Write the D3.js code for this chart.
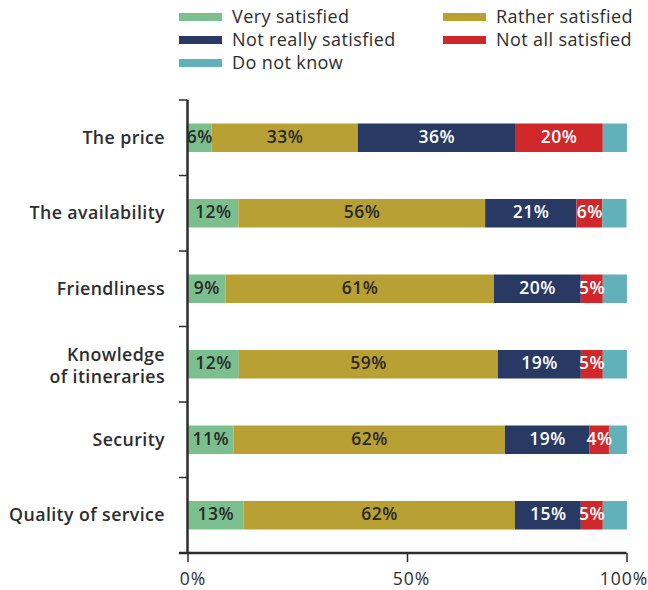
<!DOCTYPE html>
<html><head><meta charset="utf-8">
<script src="https://cdn.jsdelivr.net/npm/d3@7/dist/d3.min.js"></script>
<style>body{margin:0;background:#fff}svg{display:block}</style>
</head><body>
<svg id="chart" width="648" height="590"></svg>
<script>
const categories = ["The price", "The availability", "Friendliness", "Knowledge\nof itineraries", "Security", "Quality of service"];
const seriesNames = ["Very satisfied", "Rather satisfied", "Not really satisfied", "Not all satisfied", "Do not know"];
const verySatisfied   = [5.5, 11.6, 8.7, 11.7, 10.5, 12.8];
const ratherSatisfied = [33.3, 56.2, 61.1, 59.0, 61.8, 61.8];
const notReally       = [35.8, 20.8, 19.8, 18.9, 19.3, 15.0];
const notAll          = [20.0, 5.9, 5.0, 5.0, 4.4, 5.0];
const doNotKnow       = [5.5, 5.5, 5.5, 5.5, 4.1, 5.5];
const valueLabels = [
  ["6%", "33%", "36%", "20%", ""],
  ["12%", "56%", "21%", "6%", ""],
  ["9%", "61%", "20%", "5%", ""],
  ["12%", "59%", "19%", "5%", ""],
  ["11%", "62%", "19%", "4%", ""],
  ["13%", "62%", "15%", "5%", ""]
];
const xTicks = [0, 50, 100];
const xTickLabels = ["0%", "50%", "100%"];

const colors = ["#7bbf8e", "#b8a034", "#283a63", "#d0272b", "#62b1ba"];
const labelColors = ["#2a2a2a", "#2a2a2a", "#ffffff", "#ffffff", "#ffffff"];
const tickLabelShift = [5, 4, -3];
const FONT = "'Open Sans', sans-serif";
const ink = "#2d2d2d";

const series = [verySatisfied, ratherSatisfied, notReally, notAll, doNotKnow];
const table = categories.map((c, i) => {
  const o = {cat: c};
  seriesNames.forEach((s, j) => o[s] = series[j][i]);
  return o;
});
const stacked = d3.stack().keys(seriesNames)(table);

const svg = d3.select("#chart");
const x = d3.scaleLinear().domain([0, 100]).range([187.5, 626.5]);
const y = d3.scaleBand().domain(categories).range([100, 553]).padding(0);
const barH = 28.5;

// bars
const layers = svg.append("g").selectAll("g").data(stacked).join("g")
  .attr("fill", (d, i) => colors[i]);
layers.selectAll("rect").data(d => d).join("rect")
  .attr("x", d => x(d[0]))
  .attr("width", d => x(d[1]) - x(d[0]))
  .attr("y", d => y(d.data.cat) + y.bandwidth() / 2 - barH / 2)
  .attr("height", barH);

// value labels
stacked.forEach((layer, si) => {
  svg.append("g").selectAll("text").data(layer).join("text")
    .attr("x", d => (x(d[0]) + x(d[1])) / 2 + 0.3)
    .attr("y", d => y(d.data.cat) + y.bandwidth() / 2 - 1)
    .attr("dy", "0.35em")
    .attr("text-anchor", "middle")
    .attr("font-family", FONT)
    .attr("font-size", 17.5)
    .attr("font-weight", 600)
    .attr("letter-spacing", "0.5px")
    .attr("fill", labelColors[si])
    .text((d, i) => valueLabels[i][si]);
});

// y axis
const yAxisG = svg.append("g");
yAxisG.append("line").attr("x1", 187.5).attr("x2", 187.5)
  .attr("y1", y.range()[0]).attr("y2", y.range()[1])
  .attr("stroke", ink).attr("stroke-width", 2.5);
const boundaries = categories.map(c => y(c));
yAxisG.selectAll("line.tk").data(boundaries).join("line").attr("class", "tk")
  .attr("x1", 179).attr("x2", 187.5).attr("y1", d => d).attr("y2", d => d)
  .attr("stroke", ink).attr("stroke-width", 1.5);

// category labels
svg.append("g").selectAll("text").data(categories).join("text")
  .attr("text-anchor", "end")
  .attr("font-family", FONT)
  .attr("font-size", 17.8)
  .attr("font-weight", 600)
  .attr("letter-spacing", "0.4px")
  .attr("fill", ink)
  .each(function(d) {
    const lines = d.split("\n");
    const cy = y(d) + y.bandwidth() / 2;
    const lh = 21.6;
    const t = d3.select(this);
    lines.forEach((ln, k) => {
      t.append("tspan").attr("x", 165)
        .attr("y", cy + (lines.length > 1 ? 1.5 : 0) + (k - (lines.length - 1) / 2) * lh)
        .attr("dy", "0.35em").text(ln);
    });
  });

// x axis
const xAxis = d3.axisBottom(x).tickValues(xTicks).tickSize(9)
  .tickFormat((d, i) => xTickLabels[i]);
const xg = svg.append("g").attr("transform", "translate(0,553)").call(xAxis);
xg.select(".domain").remove();
xg.append("line").attr("x1", 179).attr("x2", x(100)).attr("y1", 0).attr("y2", 0)
  .attr("stroke", ink).attr("stroke-width", 2.5);
xg.selectAll(".tick line").attr("stroke", ink).attr("stroke-width", 1.5);
xg.selectAll(".tick text").attr("fill", ink).attr("font-family", FONT)
  .attr("font-size", 17.5).attr("letter-spacing", "1px")
  .attr("y", 32).attr("dy", 0)
  .attr("dx", (d, i) => tickLabelShift[i]);

// legend
const legendItems = [
  {name: seriesNames[0], c: 0, x: 179, y: 17},
  {name: seriesNames[2], c: 2, x: 179, y: 40},
  {name: seriesNames[4], c: 4, x: 179, y: 63},
  {name: seriesNames[1], c: 1, x: 443, y: 17},
  {name: seriesNames[3], c: 3, x: 443, y: 40}
];
const lg = svg.append("g").selectAll("g").data(legendItems).join("g")
  .attr("transform", d => `translate(${d.x},${d.y})`);
lg.append("rect").attr("x", 0).attr("y", -4).attr("width", 43).attr("height", 8)
  .attr("fill", d => colors[d.c]);
lg.append("text").attr("x", 53).attr("y", 0).attr("dy", "0.35em")
  .attr("font-family", FONT).attr("font-size", 18).attr("letter-spacing", "0.4px")
  .attr("fill", ink)
  .text(d => d.name);
</script>
</body></html>
